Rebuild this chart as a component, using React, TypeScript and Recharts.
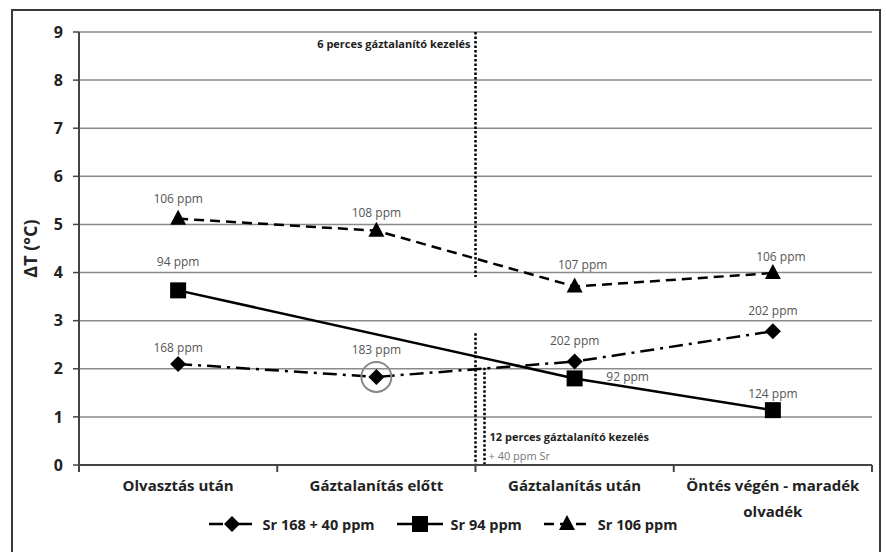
import React from 'react';
import {
  LineChart, Line, XAxis, YAxis, CartesianGrid, Legend, LabelList,
  ReferenceLine, ReferenceDot, Text,
} from 'recharts';

const categories = ['Olvasztás után', 'Gáztalanítás előtt', 'Gáztalanítás után', 'Öntés végén - maradék olvadék'];
const sr168 = [2.1, 1.83, 2.15, 2.78];
const sr94 = [3.63, null, 1.8, 1.14];
const sr106 = [5.12, 4.87, 3.71, 3.99];
const sr168Ppm = ['168 ppm', '183 ppm', '202 ppm', '202 ppm'];
const sr94Ppm = ['94 ppm', null, '92 ppm', '124 ppm'];
const sr106Ppm = ['106 ppm', '108 ppm', '107 ppm', '106 ppm'];
const yTicks = [0, 1, 2, 3, 4, 5, 6, 7, 8, 9];
const seriesNames = ['Sr 168 + 40 ppm', 'Sr 94 ppm', 'Sr 106 ppm'];

// layout
const W = 886;
const H = 552;
const Y_W = 79;
const M_RIGHT = 14;
const BAND = (W - Y_W - M_RIGHT) / categories.length;
const FONT = '"Open Sans", Lato, sans-serif';
const INK = '#222';

// label offsets (dx, dy) per point
const off168 = [[0, -16], [0, -27], [0, -21], [0, -21]];
const off94 = [[0, -29], [0, 0], [53, -2], [0, -17]];
const off106 = [[0, -20], [0, -18], [8, -22], [8, -17]];

const data = categories.map((c, i) => ({
  name: c,
  sr168: sr168[i],
  sr94: sr94[i],
  sr106: sr106[i],
}));

const Marker = ({ kind, cx, cy }: { kind: string; cx: number; cy: number }) => {
  if (kind === 'diamond') {
    return <polygon points={`${cx},${cy - 8} ${cx + 8},${cy} ${cx},${cy + 8} ${cx - 8},${cy}`} fill="#000" />;
  }
  if (kind === 'square') {
    return <rect x={cx - 8} y={cy - 8} width={16} height={16} fill="#000" />;
  }
  return <polygon points={`${cx},${cy - 9} ${cx + 8},${cy + 6} ${cx - 8},${cy + 6}`} fill="#000" />;
};

const dotFor = (kind: string) => (p: any) => {
  if (p.value == null || p.cy == null) return <g key={p.index} />;
  return <Marker key={p.index} kind={kind} cx={p.cx} cy={p.cy} />;
};

const labelFor = (texts: (string | null)[], offs: number[][]) => (p: any) => {
  const t = texts[p.index];
  if (!t || p.value == null) return null;
  const [dx, dy] = offs[p.index];
  return (
    <text x={p.x + dx} y={p.y + dy} textAnchor="middle" dominantBaseline="central"
      fontSize={12} fill="#555" fontFamily={FONT}>{t}</text>
  );
};

const XTick = (p: any) => {
  const { x, y, payload, index } = p;
  return (
    <g>
      {index === 0 && <line x1={x - BAND / 2} x2={x - BAND / 2} y1={y} y2={y + 7} stroke="#444" strokeWidth={2} />}
      <line x1={x + BAND / 2} x2={x + BAND / 2} y1={y} y2={y + 7} stroke="#444" strokeWidth={2} />
      <Text x={x} y={y + 15} width={BAND - 4} textAnchor="middle" verticalAnchor="start"
        fontSize={15} fontWeight={700} fill={INK} fontFamily={FONT} lineHeight={26}>
        {payload.value}
      </Text>
    </g>
  );
};

const legendStyles = [
  { kind: 'diamond', dash: '14 6 3 6' },
  { kind: 'square', dash: undefined },
  { kind: 'triangle', dash: '10 6' },
];

const LegendContent = () => (
  <div style={{ display: 'flex', justifyContent: 'center', alignItems: 'center', paddingLeft: 14, paddingTop: 2 }}>
    {seriesNames.map((n, i) => (
      <div key={n} style={{ display: 'flex', alignItems: 'center', marginRight: i < 2 ? 22 : 0 }}>
        <svg width={46} height={20}>
          <line x1={0} x2={46} y1={10} y2={10} stroke="#000" strokeWidth={2.5} strokeDasharray={legendStyles[i].dash} />
          <Marker kind={legendStyles[i].kind} cx={23} cy={10} />
        </svg>
        <span style={{ marginLeft: 8, fontSize: 14.5, fontWeight: 700, color: INK, fontFamily: FONT }}>{n}</span>
      </div>
    ))}
  </div>
);

export default function App() {
  return (
    <div style={{ position: 'absolute', left: 0, top: 0, width: W, height: H, background: '#fff', overflow: 'hidden' }}>
      <div style={{ position: 'absolute', left: 11, top: 9, width: 866, height: 560, border: '2px solid #3a3a3a' }} />
      <LineChart width={W} height={H} data={data} margin={{ top: 32, right: M_RIGHT, left: 0, bottom: 0 }}
        style={{ position: 'absolute', left: 0, top: 0 }}>
        <CartesianGrid yAxisId="left" vertical={false} stroke="#8a8a8a" strokeWidth={1.5} />
        <XAxis dataKey="name" type="category" scale="band" height={47} tickSize={0} tickMargin={0}
          tickLine={false} axisLine={{ stroke: '#444', strokeWidth: 2 }} tick={<XTick />} interval={0} />
        <YAxis yAxisId="left" domain={[0, 9]} ticks={yTicks} width={Y_W} tickSize={6} tickMargin={10}
          axisLine={{ stroke: '#444', strokeWidth: 2 }} tickLine={{ stroke: '#444', strokeWidth: 1.5 }}
          tick={{ fontSize: 16, fontWeight: 700, fill: INK, fontFamily: FONT }}
          label={(p: any) => {
            const vb = p.viewBox;
            const cx = 30;
            const cy = vb.y + vb.height / 2;
            return (
              <text x={cx} y={cy} transform={`rotate(-90 ${cx} ${cy})`} textAnchor="middle" dominantBaseline="central"
                fontSize={18} fontWeight={700} fill={INK} fontFamily={FONT}>ΔT (°C)</text>
            );
          }} />
        <YAxis yAxisId="right" orientation="right" width={0} tick={false} tickLine={false}
          axisLine={{ stroke: '#555', strokeWidth: 2 }} />
        <Legend verticalAlign="bottom" height={40} content={<LegendContent />} />

        <ReferenceLine yAxisId="left" position="start"
          segment={[{ x: categories[2], y: 9 }, { x: categories[2], y: 3.91 }]}
          stroke="#000" strokeWidth={2.5} strokeDasharray="2.5 2"
          label={(p: any) => (
            <text x={p.viewBox.x - 5} y={p.viewBox.y + 16} textAnchor="end" fontSize={11} fontWeight={700}
              fill={INK} fontFamily={FONT}>6 perces gáztalanító kezelés</text>
          )} />
        <ReferenceLine yAxisId="left" position="start"
          segment={[{ x: categories[2], y: 2.74 }, { x: categories[2], y: 0 }]}
          stroke="#000" strokeWidth={2.5} strokeDasharray="2.5 2" />
        {/* second dotted line, 9px right of the boundary, drawn together with its notes */}
        <ReferenceLine yAxisId="left" position="start"
          segment={[{ x: categories[2], y: 2.02 }, { x: categories[2], y: 0 }]}
          stroke="none"
          label={(p: any) => {
            const { x, y, height } = p.viewBox;
            const b = y + height;
            return (
              <g>
                <line x1={x + 9} x2={x + 9} y1={y} y2={b} stroke="#000" strokeWidth={2.5} strokeDasharray="2.5 2" />
                <text x={x + 14} y={b - 24} fontSize={11} fontWeight={700} fill={INK} fontFamily={FONT}>
                  12 perces gáztalanító kezelés</text>
                <text x={x + 13} y={b - 5} fontSize={11} fill="#777" fontFamily={FONT}>+ 40 ppm Sr</text>
              </g>
            );
          }} />

        <Line yAxisId="left" dataKey="sr168" stroke="#000" strokeWidth={2.5} strokeDasharray="14 6 3 6"
          dot={dotFor('diamond')} activeDot={false} isAnimationActive={false}>
          <LabelList dataKey="sr168" content={labelFor(sr168Ppm, off168)} />
        </Line>
        <Line yAxisId="left" dataKey="sr94" stroke="#000" strokeWidth={2.5} connectNulls
          dot={dotFor('square')} activeDot={false} isAnimationActive={false}>
          <LabelList dataKey="sr94" content={labelFor(sr94Ppm, off94)} />
        </Line>
        <Line yAxisId="left" dataKey="sr106" stroke="#000" strokeWidth={2.5} strokeDasharray="10 6"
          dot={dotFor('triangle')} activeDot={false} isAnimationActive={false}>
          <LabelList dataKey="sr106" content={labelFor(sr106Ppm, off106)} />
        </Line>
        <ReferenceDot yAxisId="left" x={categories[1]} y={sr168[1]} r={15}
          fill="none" stroke="#888" strokeWidth={2} />
      </LineChart>
    </div>
  );
}
